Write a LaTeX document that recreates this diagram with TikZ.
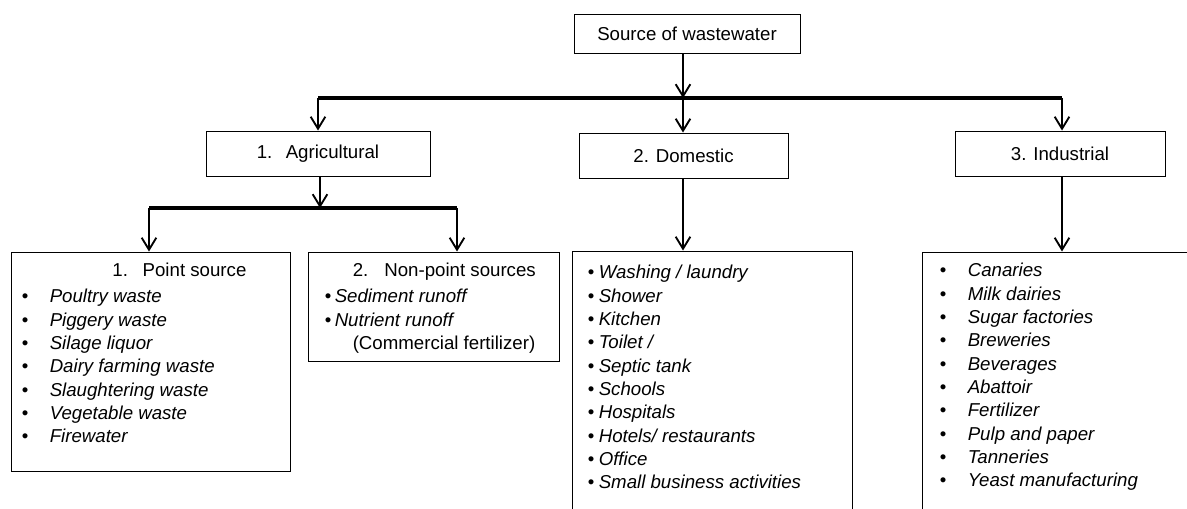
\documentclass[tikz,border=0pt]{standalone}
\usepackage{fontspec}
\setmainfont{Liberation Sans}
\usetikzlibrary{calc,arrows.meta}

\tikzset{
  box/.style={draw, line width=0.75pt, rectangle, inner sep=0pt, font=\fontsize{14}{17.5}\selectfont},
  listtext/.style={anchor=north west, inner sep=0pt, font=\fontsize{14}{17.5}\selectfont},
  arr/.style={line width=1.4pt, -{Straight Barb[length=9pt,width=11pt]}},
  bus/.style={line width=2.8pt},
}

\begin{document}
\begin{tikzpicture}[x=0.75pt,y=0.75pt,yscale=-1,xscale=1]
%set diagram left start at 0, and has height of 508
\clip (0,0) rectangle (1187,508);

% Text Node
\node[box, minimum width=169.5pt, minimum height=29.25pt] (src) at (687,33.5) {Source of wastewater};
% Text Node
\node[box, minimum width=168pt, minimum height=33.75pt] (agri) at (318,153.5) {1.\hspace{10pt}Agricultural};
% Text Node
\node[box, minimum width=156.75pt, minimum height=33.75pt] (dom) at (683.5,155.5) {2. Domestic};
% Text Node
\node[box, minimum width=157.5pt, minimum height=33.75pt] (ind) at (1060,153.5) {3. Industrial};

%Shape: Rectangle
\node[box, minimum width=209.25pt, minimum height=164.25pt] (ps) at (150.5,361.5) {};
%Shape: Rectangle
\node[box, minimum width=188.25pt, minimum height=81.75pt] (nps) at (433.5,306.5) {};
%Shape: Rectangle
\node[box, minimum width=210pt, minimum height=216.75pt] (domlist) at (712,395.5) {};
%Shape: Rectangle
\node[box, minimum width=208.5pt, minimum height=216pt] (indlist) at (1061,396) {};

\coordinate (b1l) at (318,98);
\coordinate (b1m) at (683,98);
\coordinate (b1r) at (1062,98);
\coordinate (b2l) at (149,208);
\coordinate (b2m) at (320,208);
\coordinate (b2r) at (457,208);

%Straight Lines
\draw[bus] (b1l) -- (b1r);
\draw[arr] (src.south -| b1m) -- (b1m);
\draw[arr] (b1l) -- (b1l |- agri.north);
\draw[arr] (b1m) -- (b1m |- dom.north);
\draw[arr] (b1r) -- (b1r |- ind.north);
%Straight Lines
\draw[arr] (b2m |- agri.south) -- (b2m);
\draw[bus] (b2l) -- (b2r);
\draw[arr] (b2l) -- (b2l |- ps.north);
\draw[arr] (b2r) -- (b2r |- nps.north);
%Straight Lines
\draw[arr] (b1m |- dom.south) -- (b1m |- domlist.north);
\draw[arr] (b1r |- ind.south) -- (b1r |- indlist.north);

% Text Node
\node[listtext] (pstext) at ($(ps.north west)+(11,8.7)$) {\begin{tabular}{@{}p{21pt}@{}l@{}}
\multicolumn{2}{@{}l@{}}{\hspace{68pt}1.\hspace{11pt}Point source}\\[2pt]
\textbullet & \textit{Poultry waste}\\
\textbullet & \textit{Piggery waste}\\
\textbullet & \textit{Silage liquor}\\
\textbullet & \textit{Dairy farming waste}\\
\textbullet & \textit{Slaughtering waste}\\
\textbullet & \textit{Vegetable waste}\\
\textbullet & \textit{Firewater}
\end{tabular}};
% Text Node
\node[listtext] (npstext) at ($(nps.north west)+(17,8.7)$) {\begin{tabular}{@{}p{7.5pt}@{}l@{}}
\multicolumn{2}{@{}l@{}}{\hspace{21pt}2.\hspace{12pt}Non-point sources}\\[2pt]
\textbullet & \textit{Sediment runoff}\\
\textbullet & \textit{Nutrient runoff}\\
\multicolumn{2}{@{}l@{}}{\hspace{21pt}(Commercial fertilizer)}
\end{tabular}};
% Text Node
\node[listtext] (domtext) at ($(domlist.north west)+(16,11.7)$) {\begin{tabular}{@{}p{8.25pt}@{}l@{}}
\textbullet & \textit{Washing / laundry}\\
\textbullet & \textit{Shower}\\
\textbullet & \textit{Kitchen}\\
\textbullet & \textit{Toilet /}\\
\textbullet & \textit{Septic tank}\\
\textbullet & \textit{Schools}\\
\textbullet & \textit{Hospitals}\\
\textbullet & \textit{Hotels/ restaurants}\\
\textbullet & \textit{Office}\\
\textbullet & \textit{Small business activities}
\end{tabular}};
% Text Node
\node[listtext] (indtext) at ($(indlist.north west)+(18,8.7)$) {\begin{tabular}{@{}p{21pt}@{}l@{}}
\textbullet & \textit{Canaries}\\
\textbullet & \textit{Milk dairies}\\
\textbullet & \textit{Sugar factories}\\
\textbullet & \textit{Breweries}\\
\textbullet & \textit{Beverages}\\
\textbullet & \textit{Abattoir}\\
\textbullet & \textit{Fertilizer}\\
\textbullet & \textit{Pulp and paper}\\
\textbullet & \textit{Tanneries}\\
\textbullet & \textit{Yeast manufacturing}
\end{tabular}};

\end{tikzpicture}
\end{document}
